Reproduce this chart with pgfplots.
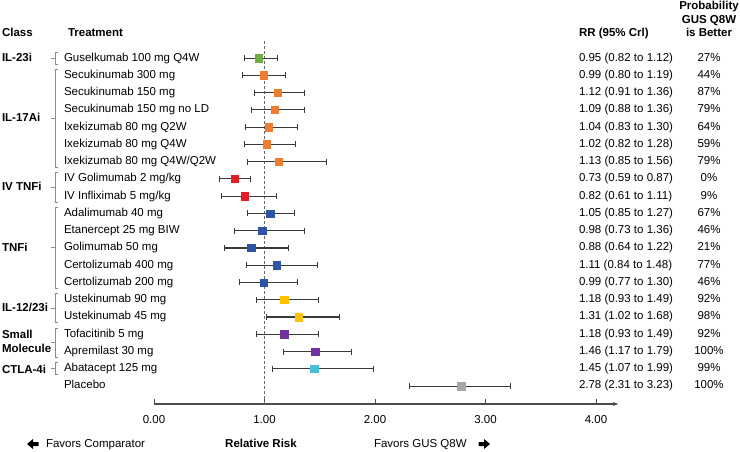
\documentclass[border=0pt]{standalone}
\usepackage{fontspec}
\setmainfont{Liberation Sans}
\usepackage{pgfplots}
\usepackage{pgfplotstable}
\pgfplotsset{compat=1.18}
\usetikzlibrary{arrows.meta}
\definecolor{cGreen}{HTML}{70AD47}
\definecolor{cOrange}{HTML}{ED7D31}
\definecolor{cRed}{HTML}{E41E26}
\definecolor{cBlue}{HTML}{2E54A4}
\definecolor{cYellow}{HTML}{FFC000}
\definecolor{cPurple}{HTML}{7030A0}
\definecolor{cCyan}{HTML}{45C0D6}
\definecolor{cGray}{HTML}{A6A6A6}
\definecolor{cBar}{HTML}{3A3A3A}
\definecolor{cBrk}{HTML}{8C8C8C}
\pgfplotstableread{
x y lo hi
0.95 -1 0.82 1.12
0.99 -2 0.80 1.19
1.12 -3 0.91 1.36
1.09 -4 0.88 1.36
1.04 -5 0.83 1.30
1.02 -6 0.82 1.28
1.13 -7 0.85 1.56
0.73 -8 0.59 0.87
0.82 -9 0.61 1.11
1.05 -10 0.85 1.27
0.98 -11 0.73 1.36
0.88 -12 0.64 1.22
1.11 -13 0.84 1.48
0.99 -14 0.77 1.30
1.18 -15 0.93 1.49
1.31 -16 1.02 1.68
1.18 -17 0.93 1.49
1.46 -18 1.17 1.79
1.45 -19 1.07 1.99
2.78 -20 2.31 3.23
}\alldata
\newcommand\fs{\fontsize{11.5bp}{13.8bp}\selectfont}
\begin{document}
\fs
\begin{tikzpicture}[x=1bp,y=1bp, every node/.style={inner sep=0pt, outer sep=0pt, font=\fs}]
\path (0,0) rectangle (740,-452);
\begin{axis}[at={(154bp,-404bp)}, anchor=south west, scale only axis,
  width=464.1bp, height=363.2bp,
  xmin=0, xmax=4.2, ymin=-21.04, ymax=0,
  axis x line*=bottom, axis y line=none,
  x axis line style={draw=black!70, line width=1.2bp, -{Stealth[length=5bp,width=4bp]}},
  xtick={0,1,2,3,4}, xticklabels={0.00,1.00,2.00,3.00,4.00},
  xticklabel style={font=\fs, yshift=-11bp},
  tick align=inside, major tick length=5bp,
  every tick/.style={draw=black!70, line width=1bp},
  ytick=\empty, clip=false]
\draw[draw=black!60, line width=0.8bp, dash pattern=on 3bp off 2bp] (axis cs:1,0) -- (axis cs:1,-21.04);
\addplot[forget plot, draw=none, mark=none,
  error bars/.cd, x dir=both, x explicit, error mark=|,
  error bar style={draw=cBar, line width=1.1bp, solid},
  error mark options={draw=cBar, line width=1bp, mark size=3bp, solid}]
  table[x=x, y=y, x error plus expr=\thisrow{hi}-\thisrow{x}, x error minus expr=\thisrow{x}-\thisrow{lo}] {\alldata};
\pgfplotsset{sq/.style={only marks, mark=square*, mark size=3.7bp, mark options={draw=#1, fill=#1}}}
\addplot[sq=cGreen] coordinates {(0.95,-1)};
\addplot[sq=cOrange] coordinates {(0.99,-2) (1.12,-3) (1.09,-4) (1.04,-5) (1.02,-6) (1.13,-7)};
\addplot[sq=cRed] coordinates {(0.73,-8) (0.82,-9)};
\addplot[sq=cBlue] coordinates {(1.05,-10) (0.98,-11) (0.88,-12) (1.11,-13) (0.99,-14)};
\addplot[sq=cYellow] coordinates {(1.18,-15) (1.31,-16)};
\addplot[sq=cPurple] coordinates {(1.18,-17) (1.46,-18)};
\addplot[sq=cCyan] coordinates {(1.45,-19)};
\addplot[sq=cGray] coordinates {(2.78,-20)};
\end{axis}
% headers
\node[anchor=mid west, font=\fs\bfseries] at (2,-33) {Class};
\node[anchor=mid west, font=\fs\bfseries] at (68,-33) {Treatment};
\node[anchor=mid west, font=\fs\bfseries] at (579,-33) {RR (95\% Crl)};
\node[anchor=mid, font=\fs\bfseries] at (709,-6) {Probability};
\node[anchor=mid, font=\fs\bfseries] at (709,-20) {GUS Q8W};
\node[anchor=mid, font=\fs\bfseries] at (709,-33) {is Better};
% treatments
\foreach \t [count=\i] in {Guselkumab 100 mg Q4W, Secukinumab 300 mg, Secukinumab 150 mg, Secukinumab 150 mg no LD, Ixekizumab 80 mg Q2W, Ixekizumab 80 mg Q4W, Ixekizumab 80 mg Q4W/Q2W, IV Golimumab 2 mg/kg, IV Infliximab 5 mg/kg, Adalimumab 40 mg, Etanercept 25 mg BIW, Golimumab 50 mg, Certolizumab 400 mg, Certolizumab 200 mg, Ustekinumab 90 mg, Ustekinumab 45 mg, Tofacitinib 5 mg, Apremilast 30 mg, Abatacept 125 mg, Placebo}
  \node[anchor=mid west] at (64,{-58-(\i-1)*17.26}) {\t};
\foreach \t [count=\i] in {0.95 (0.82 to 1.12), 0.99 (0.80 to 1.19), 1.12 (0.91 to 1.36), 1.09 (0.88 to 1.36), 1.04 (0.83 to 1.30), 1.02 (0.82 to 1.28), 1.13 (0.85 to 1.56), 0.73 (0.59 to 0.87), 0.82 (0.61 to 1.11), 1.05 (0.85 to 1.27), 0.98 (0.73 to 1.36), 0.88 (0.64 to 1.22), 1.11 (0.84 to 1.48), 0.99 (0.77 to 1.30), 1.18 (0.93 to 1.49), 1.31 (1.02 to 1.68), 1.18 (0.93 to 1.49), 1.46 (1.17 to 1.79), 1.45 (1.07 to 1.99), 2.78 (2.31 to 3.23)}
  \node[anchor=mid west] at (579,{-58-(\i-1)*17.26}) {\t};
\foreach \t [count=\i] in {27, 44, 87, 79, 64, 59, 79, 0, 9, 67, 46, 21, 77, 46, 92, 98, 92, 100, 99, 100}
  \node[anchor=mid] at (709,{-58-(\i-1)*17.26}) {\t\%};
% classes
\node[anchor=mid west, font=\fs\bfseries] at (2,-58) {IL-23i};
\node[anchor=mid west, font=\fs\bfseries] at (2,-118) {IL-17Ai};
\node[anchor=mid west, font=\fs\bfseries] at (2,-187) {IV TNFi};
\node[anchor=mid west, font=\fs\bfseries] at (2,-248) {TNFi};
\node[anchor=mid west, font=\fs\bfseries] at (2,-308) {IL-12/23i};
\node[anchor=mid west, font=\fs\bfseries] at (2,-335) {Small};
\node[anchor=mid west, font=\fs\bfseries] at (2,-349) {Molecule};
\node[anchor=mid west, font=\fs\bfseries] at (2,-370) {CTLA-4i};
% brackets
\foreach \a/\b in {1/1, 2/7, 8/9, 10/14, 15/16, 17/18, 19/19} {
  \pgfmathsetmacro\ya{-58-(\a-1)*17.26+6}
  \pgfmathsetmacro\yb{-58-(\b-1)*17.26-6}
  \pgfmathsetmacro\ym{(\ya+\yb)/2}
  \draw[cBrk, line width=0.9bp] (58,\ya) -- (55,\ya) -- (55,\yb) -- (58,\yb);
  \draw[cBrk, line width=0.9bp] (55,\ym) -- (51,\ym);
}
% bottom
\fill (27,-444) -- (33,-439) -- (33,-442) -- (38.5,-442) -- (38.5,-446) -- (33,-446) -- (33,-449) -- cycle;
\node[anchor=mid west] at (46,-444) {Favors Comparator};
\node[anchor=mid, font=\fs\bfseries] at (261,-444) {Relative Risk};
\node[anchor=mid west] at (374,-444) {Favors GUS Q8W};
\fill (490,-444) -- (484,-439) -- (484,-442) -- (478.5,-442) -- (478.5,-446) -- (484,-446) -- (484,-449) -- cycle;
\end{tikzpicture}
\end{document}
